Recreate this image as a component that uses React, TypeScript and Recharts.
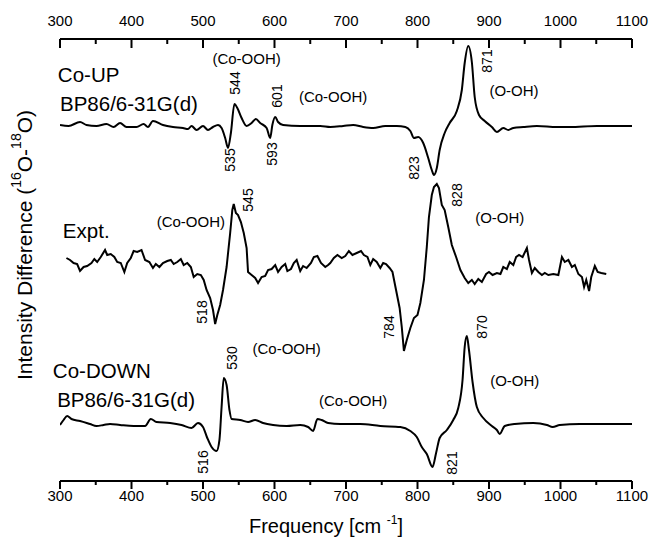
import React from "react";
import { ComposedChart, Line, XAxis, YAxis, ReferenceDot } from "recharts";

const FONT = "'Liberation Sans', Arial, Helvetica, sans-serif";

const freqTicks = [300, 350, 400, 450, 500, 550, 600, 650, 700, 750, 800, 850, 900, 950, 1000, 1050, 1100];

// vertical offsets of the three stacked spectra
const coUpOffset = 355;
const exptOffset = 219;
const coDownOffset = 57;

const coUpFreq = [300, 312, 328, 337, 351, 365, 375, 384, 393, 407, 417, 423, 430, 444, 458, 472, 479, 484, 491, 500, 507, 514, 521, 526, 531, 535, 539, 544, 548, 554, 561, 568, 574, 580, 589, 594, 597, 601, 605, 612, 636, 664, 678, 696, 710, 724, 738, 755, 771, 783, 790, 795, 801, 808, 815, 820, 823, 827, 831, 838, 845, 855, 862, 866, 871, 876, 880, 886, 894, 904, 911, 920, 927, 934, 948, 967, 995, 1013, 1051, 1100];
const coUpInt = [1, 0, 4, 1, 0, 2, -1, 3, -1, -1, 2, -1, 5, 1, -1, -2, -3, 0, -4, 0, -4, -1, 1, -2, -12, -22, -7, 22, 18, 8, 0, 3, 7, 3, -2, -12, 1, 9, 4, 1, 0, 0, -1, 0, 1, -1, -2, 0, 0, -1, -5, -12, -11, -17, -32, -44, -49, -42, -24, -7, 3, 15, 36, 63, 80, 64, 29, 11, 5, -1, -6, -2, -4, -2, -1, 0, -1, -1, 0, 0];

const exptFreq = [309, 314, 319, 324, 328, 333, 338, 344, 348, 352, 357, 363, 366, 371, 376, 380, 385, 390, 394, 399, 403, 408, 414, 419, 425, 430, 434, 439, 444, 450, 455, 459, 464, 469, 473, 478, 483, 487, 492, 497, 501, 505, 510, 514, 517, 520, 524, 528, 533, 538, 541, 543, 546, 549, 553, 557, 561, 563, 568, 573, 577, 582, 587, 591, 596, 601, 605, 610, 615, 618, 623, 627, 631, 636, 640, 645, 651, 655, 660, 665, 671, 675, 678, 683, 688, 694, 699, 704, 709, 715, 721, 725, 730, 734, 738, 743, 748, 752, 756, 761, 765, 770, 775, 778, 781, 785, 790, 795, 800, 804, 809, 813, 816, 820, 823, 827, 830, 834, 838, 843, 848, 854, 860, 866, 871, 876, 880, 885, 890, 896, 900, 905, 911, 916, 920, 925, 929, 934, 938, 942, 947, 953, 956, 960, 964, 969, 974, 978, 983, 990, 997, 1002, 1006, 1011, 1016, 1020, 1025, 1030, 1033, 1036, 1040, 1043, 1048, 1052, 1057, 1064];
const exptInt = [4, 2, -1, -2, -9, -5, -4, -1, 3, 0, 5, 12, 7, 8, 5, 0, -1, -10, -1, 4, 11, 10, 12, 2, 0, -6, -2, -5, -1, 1, 2, -2, 0, 3, -3, -1, -5, -15, -12, -13, -18, -28, -36, -48, -62, -53, -43, -28, -5, 29, 52, 58, 49, 47, 40, 29, 14, -10, -13, -16, -21, -15, -14, -8, -7, -3, -10, -5, -2, -9, -7, -1, 2, -9, -4, -6, -1, 5, 6, -1, -5, -3, -1, 4, 7, 4, 6, 11, 7, 9, 11, 7, 5, -3, 3, 0, -6, -1, -2, -6, -10, -28, -46, -65, -89, -78, -66, -56, -53, -41, -18, 15, 45, 67, 75, 78, 74, 57, 52, 35, 17, 5, -8, -16, -21, -18, -22, -17, -20, -12, -10, -13, -11, -12, -5, -7, 0, -3, 5, 7, 5, 14, 2, -11, -6, -10, -13, -11, -13, -12, -13, 5, 0, 2, -5, -3, -12, -15, -25, -18, -29, -15, -4, -10, -11, -12];

const coDownFreq = [300, 305, 310, 316, 328, 342, 351, 361, 370, 384, 403, 419, 427, 435, 454, 470, 484, 493, 500, 506, 512, 519, 523, 526, 529, 533, 537, 540, 552, 563, 573, 584, 598, 617, 636, 647, 654, 660, 666, 675, 692, 720, 748, 776, 790, 799, 806, 813, 821, 826, 831, 841, 850, 857, 863, 866, 869, 872, 877, 883, 892, 904, 911, 915, 922, 936, 962, 981, 989, 999, 1027, 1060, 1100];
const coDownInt = [-1, 4, 8, 5, 3, 0, -2, -1, 0, -1, -2, -2, 5, 2, 1, -1, -4, 1, -3, -14, -23, -27, -16, 17, 46, 39, 14, 5, 4, 2, 4, 1, -1, -2, -1, -3, -7, 5, 4, 1, 0, 0, -2, -3, -7, -13, -23, -30, -43, -29, -14, -6, 4, 16, 44, 77, 88, 74, 42, 17, 6, -2, -6, -10, -2, 0, 1, -1, -3, -1, 0, 0, 0];

// annotations: [frequency, intensity, text, kind]  kind: r = rotated number, p = bond label, t = title (left aligned)
const notes: [number, number, string, string][] = [
  [561, 423, "(Co-OOH)", "p"],
  [545, 398, "544", "r"],
  [603, 385, "601", "r"],
  [682, 385, "(Co-OOH)", "p"],
  [538, 321, "535", "r"],
  [596, 327, "593", "r"],
  [897, 420, "871", "r"],
  [935, 391, "(O-OH)", "p"],
  [795, 313, "823", "r"],
  [297, 407, "Co-UP", "t"],
  [300, 378, "BP86/6-31G(d)", "t"],
  [304, 251, "Expt.", "t"],
  [483, 260, "(Co-OOH)", "p"],
  [563, 281, "545", "r"],
  [499, 169, "518", "r"],
  [855, 286, "828", "r"],
  [915, 264, "(O-OH)", "p"],
  [760, 154, "784", "r"],
  [890, 154, "870", "r"],
  [617, 133, "(Co-OOH)", "p"],
  [541, 123, "530", "r"],
  [290, 111, "Co-DOWN", "t"],
  [296, 82, "BP86/6-31G(d)", "t"],
  [710, 81, "(Co-OOH)", "p"],
  [500, 19, "516", "r"],
  [936, 101, "(O-OH)", "p"],
  [848, 18, "821", "r"],
];

const zip = (f: number[], v: number[], off: number) => f.map((x, i) => ({ f: x, v: v[i] + off }));
const coUpData = zip(coUpFreq, coUpInt, coUpOffset);
const exptData = zip(exptFreq, exptInt, exptOffset);
const coDownData = zip(coDownFreq, coDownInt, coDownOffset);

function TopTick(props: any) {
  const { x, y, payload } = props;
  const major = payload.value % 100 === 0;
  return (
    <g>
      <line x1={x} x2={x} y1={y} y2={y + (major ? 9 : 5)} stroke="#000" strokeWidth={2} />
      {major && (
        <text x={x} y={y - 13} textAnchor="middle" fontSize={15} fontFamily={FONT} fill="#000">
          {payload.value}
        </text>
      )}
    </g>
  );
}

function BottomTick(props: any) {
  const { x, y, payload } = props;
  const major = payload.value % 100 === 0;
  return (
    <g>
      <line x1={x} x2={x} y1={y} y2={y + (major ? 8 : 4)} stroke="#000" strokeWidth={2} />
      {major && (
        <text x={x} y={y + 20} textAnchor="middle" fontSize={15} fontFamily={FONT} fill="#000">
          {payload.value}
        </text>
      )}
    </g>
  );
}

function YTitle(props: any) {
  const vb = props.viewBox;
  const cx = vb.x + 24;
  const cy = vb.y + vb.height / 2 - 15;
  return (
    <text x={cx} y={cy} transform={`rotate(-90, ${cx}, ${cy})`} textAnchor="middle" dominantBaseline="central" fontSize={21} fontFamily={FONT} fill="#000">
      Intensity Difference (
      <tspan fontSize={14} dy={-8}>16</tspan>
      <tspan dy={8}>O-</tspan>
      <tspan fontSize={14} dy={-8}>18</tspan>
      <tspan dy={8}>O)</tspan>
    </text>
  );
}

function XTitle(props: any) {
  const vb = props.viewBox;
  const cx = vb.x + vb.width / 2 - 20;
  const y = vb.y + 52;
  return (
    <text x={cx} y={y} textAnchor="middle" fontSize={20} fontFamily={FONT} fill="#000">
      Frequency [cm{" "}
      <tspan fontSize={12} dy={-9}>-1</tspan>
      <tspan dy={9}>]</tspan>
    </text>
  );
}

function Note(props: any) {
  const { viewBox, text, kind } = props;
  const x = viewBox.x + (viewBox.width || 0) / 2;
  const y = viewBox.y + (viewBox.height || 0) / 2;
  if (kind === "r") {
    return (
      <text x={x} y={y} transform={`rotate(-90, ${x}, ${y})`} textAnchor="middle" dominantBaseline="central" fontSize={14} fontFamily={FONT} fill="#000">
        {text}
      </text>
    );
  }
  if (kind === "t") {
    return (
      <text x={x} y={y} textAnchor="start" dominantBaseline="central" fontSize={20.5} fontFamily={FONT} fill="#000">
        {text}
      </text>
    );
  }
  return (
    <text x={x} y={y} textAnchor="middle" dominantBaseline="central" fontSize={15} fontFamily={FONT} fill="#000">
      {text}
    </text>
  );
}

export default function App() {
  return (
    <div style={{ position: "absolute", left: 0, top: 0, background: "#fff" }}>
      <ComposedChart width={652} height={541} margin={{ top: 0, right: 20, bottom: 0, left: 0 }}>
        <XAxis
          xAxisId="top"
          orientation="top"
          type="number"
          dataKey="f"
          domain={[300, 1100]}
          allowDataOverflow
          ticks={freqTicks}
          interval={0}
          height={39}
          tickSize={0}
          tickMargin={0}
          tick={<TopTick />}
          axisLine={{ stroke: "#000", strokeWidth: 2 }}
        />
        <XAxis
          xAxisId="bottom"
          orientation="bottom"
          type="number"
          dataKey="f"
          domain={[300, 1100]}
          allowDataOverflow
          ticks={freqTicks}
          interval={0}
          height={60}
          tickSize={0}
          tickMargin={0}
          tick={<BottomTick />}
          axisLine={{ stroke: "#000", strokeWidth: 2 }}
          label={<XTitle />}
        />
        <YAxis type="number" domain={[0, 442]} allowDataOverflow width={60} tick={false} axisLine={false} tickLine={false} label={<YTitle />} />
        <Line xAxisId="bottom" data={coUpData} dataKey="v" type="monotone" stroke="#000" strokeWidth={2} dot={false} isAnimationActive={false} />
        <Line xAxisId="bottom" data={exptData} dataKey="v" type="linear" stroke="#000" strokeWidth={2} dot={false} isAnimationActive={false} />
        <Line xAxisId="bottom" data={coDownData} dataKey="v" type="monotone" stroke="#000" strokeWidth={2} dot={false} isAnimationActive={false} />
        {notes.map(([f, v, text, kind], i) => (
          <ReferenceDot
            key={i}
            xAxisId="bottom"
            x={f}
            y={v}
            r={0}
            fill="none"
            stroke="none"
            ifOverflow="visible"
            label={<Note text={text} kind={kind} />}
          />
        ))}
      </ComposedChart>
    </div>
  );
}
